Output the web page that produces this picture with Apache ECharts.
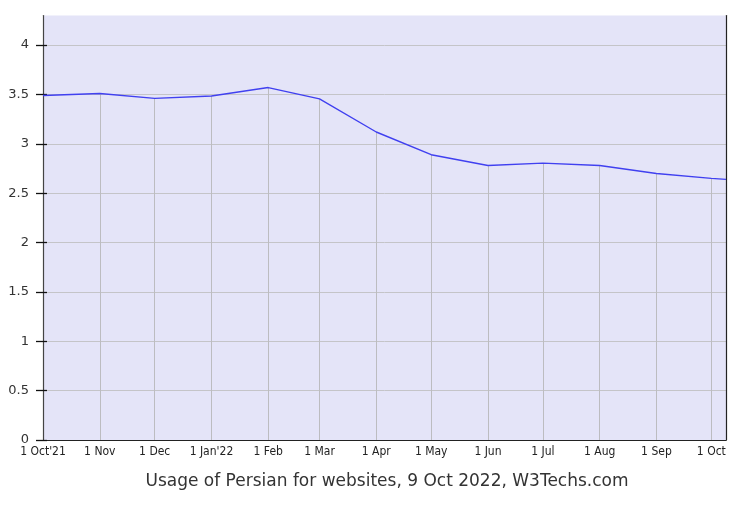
<!DOCTYPE html>
<html><head><meta charset="utf-8">
<script src="https://cdn.jsdelivr.net/npm/echarts@6/dist/echarts.min.js"></script>
<style>html,body{margin:0;padding:0;background:#fff}#c{width:755px;height:521px}</style>
</head><body><div id="c"></div>
<script>
var dates = ['2021-10-01','2021-11-01','2021-12-01','2022-01-01','2022-02-01','2022-03-01','2022-04-01','2022-05-01','2022-06-01','2022-07-01','2022-08-01','2022-09-01','2022-10-01','2022-10-09'];
var values = [3.49,3.51,3.46,3.485,3.57,3.455,3.12,2.89,2.78,2.805,2.78,2.70,2.65,2.64];
var tickDates = ['2021-10-01','2021-11-01','2021-12-01','2022-01-01','2022-02-01','2022-03-01','2022-04-01','2022-05-01','2022-06-01','2022-07-01','2022-08-01','2022-09-01','2022-10-01'];
var tickLabels = ["1 Oct'21","1 Nov","1 Dec","1 Jan'22","1 Feb","1 Mar","1 Apr","1 May","1 Jun","1 Jul","1 Aug","1 Sep","1 Oct"];
var yTicks = [0,0.5,1,1.5,2,2.5,3,3.5,4];
var title = 'Usage of Persian for websites, 9 Oct 2022, W3Techs.com';

function ts(d){ var p=d.split('-'); return Date.UTC(+p[0], +p[1]-1, +p[2]); }
var tickTs = tickDates.map(ts);
var labelMap = {}; tickTs.forEach(function(t,i){ labelMap[t]=tickLabels[i]; });
var seriesData = dates.map(function(d,i){ return [ts(d), values[i]]; });
var drops = [];
tickTs.forEach(function(t,i){
  if (i===0) return;
  var idx = dates.indexOf(tickDates[i]);
  drops.push([{coord:[t,0]},{coord:[t,values[idx]]}]);
});

var chart = echarts.init(document.getElementById('c'), null, {renderer:'canvas'});
chart.setOption({
  animation:false,
  grid:{left:43, right:29, top:15.5, bottom:81, show:true, backgroundColor:'#e4e4f8', borderWidth:0},
  title:{text:title, left:382, top:468, textAlign:'center', textStyle:{fontFamily:'DejaVu Sans', fontSize:17, fontWeight:'normal', color:'#333'}},
  xAxis:{type:'value', min:ts('2021-10-01'), max:ts('2022-10-09'),
    axisLine:{show:true, lineStyle:{color:'#222', width:1.2}},
    axisTick:{show:false},
    splitLine:{show:false},
    axisLabel:{customValues:tickTs, formatter:function(v){return labelMap[v]||'';}, fontFamily:'DejaVu Sans Condensed', fontSize:12, color:'#222', margin:6, showMinLabel:true, showMaxLabel:true}
  },
  yAxis:[{type:'value', min:0, max:4.3, interval:0.5,
    axisLine:{show:true, lineStyle:{color:'#444', width:1.2}},
    axisTick:{show:true, customValues:yTicks, length:7, lineStyle:{color:'#111', width:1.3}},
    splitLine:{show:true, lineStyle:{color:'#c4c4c8', width:1}},
    axisLabel:{customValues:yTicks, fontFamily:'DejaVu Sans', fontSize:13, color:'#333', margin:14}
  },{type:'value', min:0, max:4.3, position:'right',
    axisLine:{show:true, onZero:false, lineStyle:{color:'#222', width:1.2}},
    axisTick:{show:false}, axisLabel:{show:false}, splitLine:{show:false}
  },{type:'value', min:0, max:4.3, position:'left',
    axisLine:{show:false},
    axisTick:{show:true, inside:true, customValues:yTicks, length:4, lineStyle:{color:'#111', width:1.3}},
    axisLabel:{show:false}, splitLine:{show:false}
  }],
  series:[{type:'line', data:seriesData, showSymbol:false, symbol:'none',
    lineStyle:{color:'#4040f0', width:1.4},
    markLine:{silent:true, symbol:'none', label:{show:false}, lineStyle:{color:'#bcbcc0', width:1, type:'solid'}, data:drops, z:1},
    z:3
  }]
});
</script></body></html>
